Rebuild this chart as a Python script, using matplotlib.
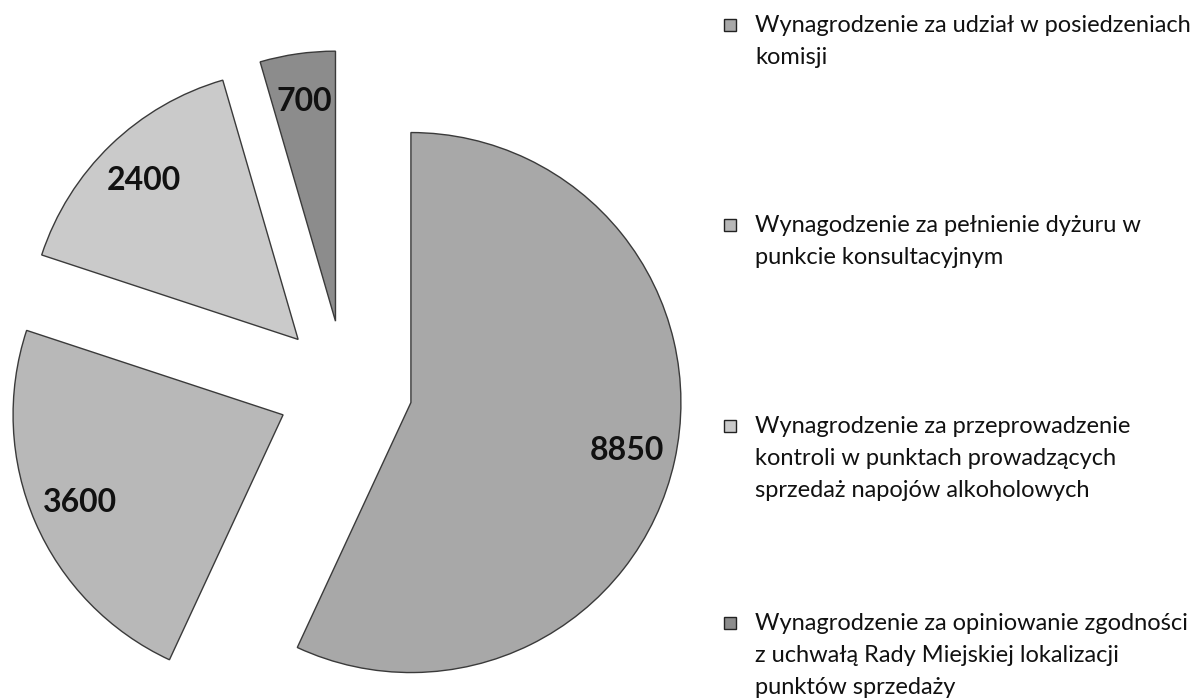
"""Pie chart of committee remuneration components."""

import matplotlib.pyplot as plt
from matplotlib.patches import Rectangle

values = [8850, 3600, 2400, 700]
categories = [
    "Wynagrodzenie za udział w posiedzeniach\nkomisji",
    "Wynagodzenie za pełnienie dyżuru w\npunkcie konsultacyjnym",
    "Wynagrodzenie za przeprowadzenie\nkontroli w punktach prowadzących\nsprzedaż napojów alkoholowych",
    "Wynagrodzenie za opiniowanie zgodności\nz uchwałą Rady Miejskiej lokalizacji\npunktów sprzedaży",
]
colors = ["#a8a8a8", "#b8b8b8", "#cacaca", "#8c8c8c"]

W, H = 1199, 700
total = sum(values)

plt.rcParams["font.family"] = ["Lato", "DejaVu Sans"]

fig = plt.figure(figsize=(W / 100, H / 100), dpi=100)
ax = fig.add_axes([0, 0, 1, 1])

wedges, texts, autotexts = ax.pie(
    values,
    colors=colors,
    startangle=90,
    counterclock=False,
    explode=[0.25] * len(values),
    autopct=lambda p: f"{p * total / 100:.0f}",
    pctdistance=0.82,
    wedgeprops=dict(edgecolor="#3a3a3a", linewidth=1.0),
    textprops=dict(fontsize=23, fontweight="bold", color="#111111"),
)

# pie radius 1 == 270 px, pie centre at (345, 388) px from top-left
r_px, cx, cy = 270, 345, 388
ax.set_xlim(-cx / r_px, (W - cx) / r_px)
ax.set_ylim(-(H - cy) / r_px, cy / r_px)
ax.set_aspect("auto")
ax.axis("off")

# legend, drawn by hand to keep the uneven spacing of the original
first_baselines = [32, 232, 433, 630]
line_step = 32
for label, color, y0 in zip(categories, colors, first_baselines):
    for i, line in enumerate(label.split("\n")):
        fig.text(755 / W, 1 - (y0 + i * line_step) / H, line,
                 fontsize=17, va="baseline", ha="left", color="#111111")
    fig.add_artist(Rectangle((724 / W, 1 - (y0 - 1) / H), 12 / W, 12 / H,
                             transform=fig.transFigure, facecolor=color,
                             edgecolor="#222222", linewidth=1.0))

fig.savefig("out.png", dpi=100)
